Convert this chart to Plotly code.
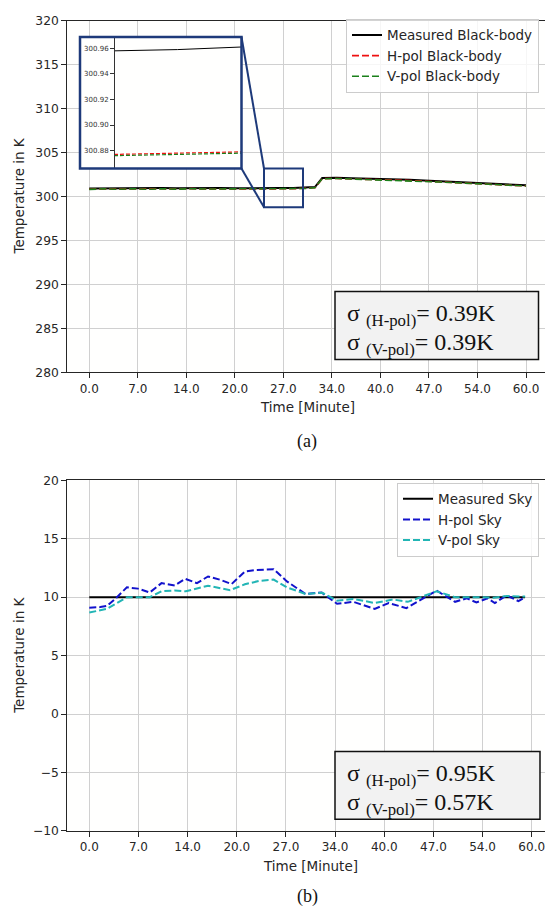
import plotly.graph_objects as go

W, H = 545, 911
def px(x): return x / W
def py(y): return 1 - y / H

# ---------------- data: (a) black-body ----------------
t_bb = [0, 2, 4, 6, 8, 10, 12, 14, 16, 18, 20, 22, 24, 26, 28, 30, 31, 32,
        34, 36, 38, 40, 42, 44, 46, 48, 50, 52, 54, 56, 58, 60]
meas_bb = [300.92, 300.94, 300.91, 300.95, 300.93, 300.96, 300.94, 300.97, 300.95, 300.96,
           300.94, 300.97, 300.958, 300.959, 300.961, 300.99, 301.08, 302.10, 302.14, 302.08,
           302.05, 301.99, 301.96, 301.90, 301.83, 301.74, 301.66, 301.59, 301.51, 301.43,
           301.36, 301.28]
hpol_bb = [300.83, 300.88, 300.84, 300.87, 300.82, 300.89, 300.85, 300.90, 300.86, 300.88,
           300.85, 300.90, 300.877, 300.878, 300.879, 300.93, 301.00, 302.03, 302.06, 301.99,
           301.97, 301.92, 301.87, 301.83, 301.75, 301.66, 301.58, 301.52, 301.43, 301.36,
           301.28, 301.21]
vpol_bb = [300.82, 300.87, 300.83, 300.88, 300.83, 300.88, 300.84, 300.89, 300.85, 300.88,
           300.86, 300.89, 300.876, 300.877, 300.878, 300.92, 301.01, 302.02, 302.05, 302.00,
           301.96, 301.91, 301.88, 301.82, 301.76, 301.65, 301.59, 301.51, 301.44, 301.35,
           301.29, 301.20]
inset_t_min, inset_t_max = 24, 28
inset_ticks = [300.88, 300.90, 300.92, 300.94, 300.96]

# ---------------- data: (b) sky ----------------
t_meas_sky = [0, 59.1]
meas_sky = [10, 10]
t_h_sky = [0, 1.5, 2.4, 3.6, 5.1, 6.6, 8.2, 9.8, 11.6, 13.0, 14.6, 16.1, 17.7, 19.3, 21.1,
           22.7, 25.0, 26.8, 29.3, 31.5, 33.6, 35.8, 38.7, 40.6, 43.0, 45.0, 47.1, 49.6,
           51.2, 52.5, 54.0, 55.0, 56.6, 58.2, 59.1]
hpol_sky = [9.1, 9.15, 9.25, 9.9, 10.84, 10.73, 10.4, 11.2, 11.0, 11.57, 11.2, 11.77, 11.5,
            11.12, 12.19, 12.33, 12.39, 11.35, 10.28, 10.4, 9.43, 9.6, 9.0, 9.5, 9.06, 9.8,
            10.56, 9.6, 9.9, 9.55, 9.9, 9.5, 10.15, 9.66, 10.0]
t_v_sky = [0, 2.4, 5.1, 8.2, 9.8, 11.6, 13.1, 16.1, 19.1, 21.1, 23.1, 25.0, 26.8, 29.3, 31.6,
           33.6, 35.8, 38.7, 41.2, 43.2, 47.1, 49.6, 52.5, 54.8, 56.6, 59.1]
vpol_sky = [8.68, 9.0, 10.0, 10.0, 10.5, 10.58, 10.5, 10.98, 10.6, 11.1, 11.4, 11.5, 10.84,
            10.28, 10.37, 9.7, 9.85, 9.5, 9.8, 9.6, 10.5, 10.0, 10.0, 9.95, 10.1, 10.05]

tick_vals = [0, 6.667, 13.333, 20, 26.667, 33.333, 40, 46.667, 53.333, 60]
tick_labels = ["0.0", "7.0", "14.0", "20.0", "27.0", "34.0", "40.0", "47.0", "54.0", "60.0"]
sigma_a = ["0.39K", "0.39K"]
sigma_b = ["0.95K", "0.57K"]

NAVY = "#1e3a7a"
AX = "#262626"
GRID = "#d0d0d0"
FONT = "DejaVu Sans"
SERIF = "Liberation Serif"
DASH = "7px,3px"

fig = go.Figure()

# (a) main
fig.add_trace(go.Scatter(x=t_bb, y=meas_bb, mode="lines", name="Measured Black-body",
                         line=dict(color="black", width=2), xaxis="x", yaxis="y", legend="legend"))
fig.add_trace(go.Scatter(x=t_bb, y=hpol_bb, mode="lines", name="H-pol Black-body",
                         line=dict(color="#ee1111", width=1.6, dash=DASH), xaxis="x", yaxis="y", legend="legend"))
fig.add_trace(go.Scatter(x=t_bb, y=vpol_bb, mode="lines", name="V-pol Black-body",
                         line=dict(color="#1a801a", width=1.6, dash=DASH), xaxis="x", yaxis="y", legend="legend"))

# (a) inset
sel = [i for i, t in enumerate(t_bb) if inset_t_min <= t <= inset_t_max]
it = [t_bb[i] for i in sel]
fig.add_trace(go.Scatter(x=it, y=[meas_bb[i] for i in sel], mode="lines", showlegend=False,
                         line=dict(color="black", width=1), xaxis="x3", yaxis="y3"))
fig.add_trace(go.Scatter(x=it, y=[hpol_bb[i] for i in sel], mode="lines", showlegend=False,
                         line=dict(color="#ee1111", width=1.2, dash="4px,2px"), xaxis="x3", yaxis="y3"))
fig.add_trace(go.Scatter(x=it, y=[vpol_bb[i] for i in sel], mode="lines", showlegend=False,
                         line=dict(color="#1a801a", width=1.2, dash="4px,2px"), xaxis="x3", yaxis="y3"))

# (b)
fig.add_trace(go.Scatter(x=t_meas_sky, y=meas_sky, mode="lines", name="Measured Sky",
                         line=dict(color="black", width=2), xaxis="x2", yaxis="y2", legend="legend2"))
fig.add_trace(go.Scatter(x=t_h_sky, y=hpol_sky, mode="lines", name="H-pol Sky",
                         line=dict(color="#1212cc", width=2, dash=DASH), xaxis="x2", yaxis="y2", legend="legend2"))
fig.add_trace(go.Scatter(x=t_v_sky, y=vpol_sky, mode="lines", name="V-pol Sky",
                         line=dict(color="#22b5b5", width=2, dash=DASH), xaxis="x2", yaxis="y2", legend="legend2"))

common_x = dict(tickvals=tick_vals, ticktext=tick_labels, showgrid=True, gridcolor=GRID, gridwidth=1,
                showline=True, linecolor=AX, linewidth=1, mirror=True, ticks="outside", ticklen=5,
                tickcolor=AX, tickfont=dict(family=FONT, size=12, color=AX), zeroline=False,
                ticklabeloverflow="allow")
common_y = dict(showgrid=True, gridcolor=GRID, gridwidth=1, showline=True, linecolor=AX, linewidth=1,
                ticks="outside", ticklen=5, tickcolor=AX, tickfont=dict(family=FONT, size=12.3, color=AX),
                zeroline=False)

legend_common = dict(xanchor="right", yanchor="top", bgcolor="rgba(255,255,255,0.8)",
                     bordercolor="#cccccc", borderwidth=1, tracegroupgap=0,
                     font=dict(family=FONT, size=13.5, color=AX))

fig.update_layout(
    width=W, height=H, autosize=False,
    margin=dict(l=0, r=0, t=0, b=0),
    paper_bgcolor="#ffffff", plot_bgcolor="#fffffe",
    font=dict(family=FONT, size=12, color=AX),
    xaxis=dict(domain=[px(67.3), 1], range=[-3.02, 62.61], anchor="y", **common_x),
    yaxis=dict(domain=[py(371), py(14)], range=[280, 320], dtick=5, anchor="x", **common_y),
    xaxis2=dict(domain=[px(67.3), 1], range=[-2.98, 61.8], anchor="y2", **common_x),
    yaxis2=dict(domain=[py(836.7), py(480.7)], range=[-10, 20], dtick=5, anchor="x2", **common_y),
    xaxis3=dict(domain=[px(80), px(241)], range=[22.93, 28], anchor="y3", showgrid=False,
                showline=False, showticklabels=False, zeroline=False, ticks=""),
    yaxis3=dict(domain=[py(164), py(30)], range=[300.866, 300.9692], anchor="free", position=px(114),
                tickvals=inset_ticks, ticktext=[f"{v:.2f}" for v in inset_ticks], showgrid=False,
                showline=True, linecolor="#333333", linewidth=1, ticks="outside", ticklen=4,
                tickcolor="#333333", tickfont=dict(family=FONT, size=7, color="#333333"), zeroline=False),
    legend=dict(x=px(539), y=py(12), **legend_common),
    legend2=dict(x=px(539), y=py(483), **legend_common),
)

shapes = []
# inset frame, zoom box, connectors
shapes.append(dict(type="rect", xref="paper", yref="paper", x0=px(80), x1=px(241.5), y0=py(164), y1=py(30.5),
                   line=dict(color=NAVY, width=2.5), layer="above"))
shapes.append(dict(type="rect", xref="paper", yref="paper", x0=px(264), x1=px(303), y0=py(203.5), y1=py(164),
                   line=dict(color=NAVY, width=2), layer="above"))
shapes.append(dict(type="line", xref="paper", yref="paper", x0=px(241.5), y0=py(30.5), x1=px(264), y1=py(164),
                   line=dict(color=NAVY, width=2), layer="above"))
shapes.append(dict(type="line", xref="paper", yref="paper", x0=px(241.5), y0=py(164), x1=px(264), y1=py(203.5),
                   line=dict(color=NAVY, width=2), layer="above"))
# sigma boxes
shapes.append(dict(type="rect", xref="paper", yref="paper", x0=px(335), x1=px(538.5), y0=py(358), y1=py(289),
                   fillcolor="#f2f2f2", line=dict(color="#111111", width=1.5), layer="above"))
shapes.append(dict(type="rect", xref="paper", yref="paper", x0=px(335), x1=px(540), y0=py(825), y1=py(756),
                   fillcolor="#f2f2f2", line=dict(color="#111111", width=1.5), layer="above"))
fig.update_layout(shapes=shapes)

ann = []
def sig_line(label, val, y):
    ann.append(dict(text=f"σ <sub>({label})</sub>= {val}", xref="paper", yref="paper",
                    x=px(345), y=py(y), xanchor="left", yanchor="middle", showarrow=False,
                    font=dict(family=SERIF, size=24, color="#111111")))
sig_line("H-pol", sigma_a[0], 313)
sig_line("V-pol", sigma_a[1], 342)
sig_line("H-pol", sigma_b[0], 780)
sig_line("V-pol", sigma_b[1], 809)

for yc in (192.5, 659):
    ann.append(dict(text="Temperature in K", xref="paper", yref="paper", x=px(19), y=py(yc),
                    xanchor="center", yanchor="middle", textangle=-90, showarrow=False,
                    font=dict(family=FONT, size=13.5, color=AX)))
ann.append(dict(text="Time [Minute]", xref="paper", yref="paper", x=px(307), y=py(406),
                xanchor="center", yanchor="middle", showarrow=False, font=dict(family=FONT, size=13.5, color=AX)))
ann.append(dict(text="Time [Minute]", xref="paper", yref="paper", x=px(310), y=py(872),
                xanchor="center", yanchor="middle", showarrow=False, font=dict(family=FONT, size=13.5, color=AX)))
ann.append(dict(text="(a)", xref="paper", yref="paper", x=px(307), y=py(441),
                xanchor="center", yanchor="middle", showarrow=False, font=dict(family=SERIF, size=18, color="#111111")))
ann.append(dict(text="(b)", xref="paper", yref="paper", x=px(307), y=py(903),
                xanchor="center", yanchor="middle", showarrow=False, font=dict(family=SERIF, size=18, color="#111111")))
fig.update_layout(annotations=ann)

fig.write_html("out.html")
